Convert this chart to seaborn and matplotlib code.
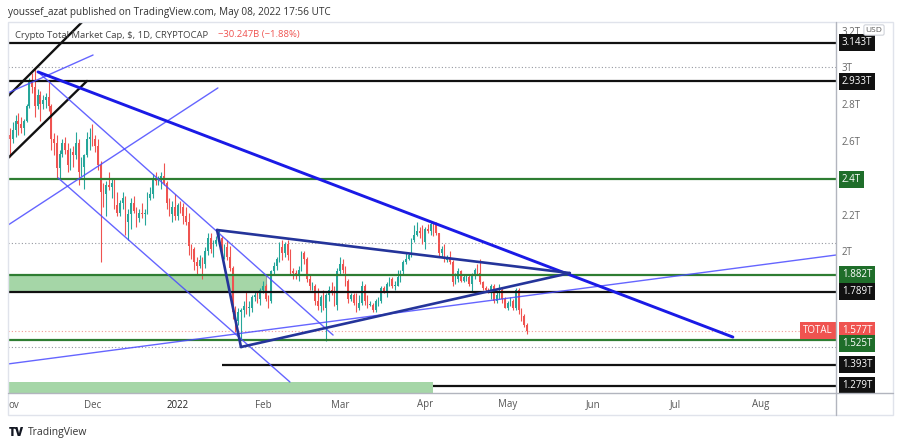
import numpy as np
import pandas as pd
import matplotlib
matplotlib.use("Agg")
import matplotlib.pyplot as plt
import matplotlib.transforms as mtransforms
from matplotlib.lines import Line2D
from matplotlib.patches import Rectangle
import seaborn as sns

# CRYPTOCAP:TOTAL daily candles, trillions USD, 2021-11-01 .. 2022-05-08
start = "2021-11-01"
first_open = 2.64
close = [
    # Nov
    2.62, 2.67, 2.72, 2.70, 2.68, 2.72, 2.80, 2.93, 2.90, 2.80, 2.86, 2.81, 2.83, 2.85, 2.80,
    2.62, 2.60, 2.46, 2.54, 2.60, 2.56, 2.48, 2.55, 2.53, 2.60, 2.44, 2.47, 2.53, 2.62, 2.63,
    # Dec
    2.62, 2.58, 2.48, 2.33, 2.32, 2.37, 2.36, 2.38, 2.26, 2.22, 2.27, 2.30, 2.17, 2.21, 2.27, 2.23,
    2.19, 2.22, 2.21, 2.22, 2.30, 2.32, 2.40, 2.39, 2.40, 2.42, 2.38, 2.27, 2.21, 2.25, 2.20,
    # Jan
    2.26, 2.25, 2.20, 2.17, 2.04, 2.02, 1.95, 1.93, 1.96, 1.94, 2.01, 2.08, 2.02, 2.05, 2.07, 2.08,
    2.02, 2.03, 1.98, 1.92, 1.68, 1.63, 1.68, 1.69, 1.71, 1.70, 1.70, 1.76, 1.77, 1.75, 1.80,
    # Feb
    1.82, 1.75, 1.74, 1.90, 1.93, 1.97, 2.03, 2.00, 2.05, 1.99, 1.90, 1.89, 1.88, 1.91,
    2.00, 1.97, 1.86, 1.82, 1.82, 1.74, 1.71, 1.76, 1.70, 1.77, 1.80, 1.79, 1.72, 1.90,
    # Mar
    1.94, 1.91, 1.85, 1.75, 1.77, 1.73, 1.70, 1.73, 1.82, 1.74, 1.72, 1.72, 1.69, 1.74, 1.74, 1.81,
    1.79, 1.83, 1.86, 1.82, 1.82, 1.87, 1.90, 1.95, 1.97, 1.99, 2.07, 2.10, 2.12, 2.11, 2.06,
    # Apr
    2.13, 2.12, 2.16, 2.15, 2.11, 2.00, 2.02, 1.96, 1.98, 1.95, 1.84, 1.86, 1.90, 1.85, 1.87,
    1.87, 1.83, 1.88, 1.91, 1.89, 1.84, 1.81, 1.80, 1.79, 1.82, 1.74, 1.77, 1.80, 1.75, 1.70,
    # May
    1.73, 1.74, 1.70, 1.80, 1.69, 1.66, 1.607, 1.577,
]
high = [
    2.68, 2.71, 2.75, 2.76, 2.74, 2.73, 2.81, 2.95, 2.98, 3.01, 2.89, 2.88, 2.86, 2.87, 2.93,
    2.81, 2.65, 2.64, 2.56, 2.62, 2.63, 2.60, 2.57, 2.58, 2.66, 2.62, 2.52, 2.54, 2.66, 2.68,
    2.70, 2.64, 2.62, 2.50, 2.38, 2.39, 2.44, 2.40, 2.41, 2.33, 2.29, 2.33, 2.31, 2.24, 2.30, 2.31,
    2.25, 2.24, 2.27, 2.24, 2.33, 2.36, 2.43, 2.44, 2.42, 2.44, 2.49, 2.39, 2.30, 2.28, 2.32,
    2.27, 2.28, 2.27, 2.25, 2.22, 2.05, 2.03, 1.98, 1.99, 1.98, 2.03, 2.11, 2.11, 2.07, 2.09, 2.13,
    2.09, 2.05, 2.07, 2.04, 1.93, 1.71, 1.70, 1.70, 1.74, 1.79, 1.74, 1.77, 1.79, 1.79, 1.81,
    1.85, 1.83, 1.77, 1.91, 1.95, 1.98, 2.06, 2.07, 2.06, 2.07, 2.02, 1.92, 1.91, 1.93,
    2.01, 2.01, 1.98, 1.88, 1.84, 1.83, 1.81, 1.77, 1.80, 1.78, 1.82, 1.84, 1.82, 1.92,
    1.98, 1.97, 1.93, 1.86, 1.78, 1.78, 1.78, 1.77, 1.85, 1.83, 1.77, 1.74, 1.73, 1.75, 1.76, 1.82,
    1.82, 1.84, 1.87, 1.87, 1.85, 1.91, 1.91, 1.96, 2.00, 2.00, 2.08, 2.15, 2.17, 2.14, 2.15,
    2.14, 2.16, 2.17, 2.17, 2.17, 2.11, 2.04, 2.05, 1.99, 2.01, 1.96, 1.89, 1.92, 1.91, 1.88,
    1.88, 1.88, 1.89, 1.92, 1.94, 1.97, 1.85, 1.82, 1.81, 1.83, 1.83, 1.79, 1.83, 1.81, 1.76,
    1.74, 1.76, 1.75, 1.81, 1.81, 1.70, 1.67, 1.62,
]
low = [
    2.52, 2.60, 2.63, 2.64, 2.65, 2.64, 2.71, 2.79, 2.87, 2.74, 2.78, 2.72, 2.78, 2.79, 2.77,
    2.56, 2.53, 2.41, 2.40, 2.52, 2.54, 2.44, 2.45, 2.47, 2.51, 2.37, 2.42, 2.35, 2.52, 2.56,
    2.58, 2.55, 2.45, 1.95, 2.25, 2.20, 2.34, 2.30, 2.24, 2.20, 2.20, 2.24, 2.10, 2.07, 2.13, 2.22,
    2.14, 2.17, 2.19, 2.15, 2.21, 2.29, 2.30, 2.37, 2.37, 2.35, 2.37, 2.24, 2.20, 2.17, 2.18,
    2.18, 2.22, 2.16, 2.15, 1.99, 1.97, 1.91, 1.88, 1.92, 1.86, 1.92, 1.99, 2.00, 1.98, 2.04, 2.05,
    1.99, 1.97, 1.96, 1.90, 1.64, 1.57, 1.61, 1.53, 1.65, 1.67, 1.66, 1.68, 1.74, 1.73, 1.72,
    1.78, 1.74, 1.70, 1.73, 1.88, 1.91, 1.95, 1.96, 1.98, 1.96, 1.88, 1.86, 1.86, 1.85,
    1.90, 1.94, 1.84, 1.80, 1.80, 1.72, 1.69, 1.68, 1.69, 1.52, 1.74, 1.77, 1.71, 1.69,
    1.88, 1.89, 1.82, 1.73, 1.74, 1.72, 1.68, 1.69, 1.72, 1.72, 1.70, 1.71, 1.68, 1.68, 1.71, 1.73,
    1.78, 1.76, 1.82, 1.81, 1.80, 1.82, 1.84, 1.88, 1.94, 1.96, 1.98, 2.06, 2.09, 2.08, 2.05,
    2.02, 2.11, 2.10, 2.09, 2.10, 1.98, 1.98, 1.95, 1.95, 1.94, 1.82, 1.83, 1.84, 1.84, 1.84,
    1.85, 1.82, 1.79, 1.86, 1.88, 1.83, 1.80, 1.79, 1.78, 1.75, 1.73, 1.73, 1.75, 1.73, 1.70,
    1.69, 1.71, 1.69, 1.69, 1.67, 1.63, 1.60, 1.56,
]

# drawings: (x0, y0, x1, y1) in days since start / trillions
black_channel = [(-0.7, 2.853, 26.2, 3.255), (-0.7, 2.516, 28.0, 2.935)]
thin_blue = [(-0.7, 2.870, 30.2, 3.076), (-0.7, 2.152, 75.6, 2.897),
             (10.2, 2.984, 117.5, 1.554), (17.5, 2.408, 101.8, 1.299),
             (-0.7, 1.397, 300.4, 1.989)]
thick_blue = [(10.2, 2.984, 262.9, 1.543)]
navy_triangle = [(75.3, 2.125, 203.6, 1.891), (75.3, 2.125, 84.0, 1.489),
                 (84.0, 1.489, 203.6, 1.891)]

# horizontal levels: value, start day, kind
levels = [(3.143, -0.7, "black"), (2.933, -0.7, "black"), (2.4, -0.7, "green"),
          (1.882, -0.7, "green"), (1.789, -0.7, "black"), (1.525, -0.7, "green"),
          (1.393, 77.1, "black"), (1.279, 153.8, "black")]
dotted_levels = [3.011, 2.054, 1.489]
green_boxes = [(-0.7, 93.1, 1.789, 1.882), (-0.7, 153.8, 1.239, 1.299)]

scale_labels = ["3.2T", "3T", "2.8T", "2.6T", "2.2T", "2T"]
scale_values = [3.2, 3.0, 2.8, 2.6, 2.2, 2.0]
tag_labels = ["3.143T", "2.933T", "2.4T", "1.882T", "1.789T", "1.577T", "1.525T", "1.393T", "1.279T"]
tag_values = [3.143, 2.933, 2.4, 1.882, 1.789, 1.577, 1.508, 1.393, 1.279]
tag_kinds = ["black", "black", "green", "green", "black", "red", "green", "black", "black"]
month_labels = ["ov", "Dec", "2022", "Feb", "Mar", "Apr", "May", "Jun", "Jul", "Aug"]
month_starts = ["2021-11-01", "2021-12-01", "2022-01-01", "2022-02-01", "2022-03-01",
                "2022-04-01", "2022-05-01", "2022-06-01", "2022-07-01", "2022-08-01"]

GREEN = "#26a69a"
RED = "#ef5350"
colmap = {"black": "#111111", "green": "#1f6e2a", "red": RED}
linemap = {"black": "#111111", "green": "#2e7d32"}

sns.set_theme(style="white")
plt.rcParams["font.family"] = ["Open Sans", "DejaVu Sans"]

W, H = 900, 445
fig = plt.figure(figsize=(W / 100, H / 100), dpi=100)


def fx(px):
    return px / W


def fy(py):
    return 1 - py / H


L, R, T, B = 8, 836, 22, 393
ax = fig.add_axes([fx(L), fy(B), (R - L) / W, (B - T) / H])
ax.set_xticks([])
ax.set_yticks([])
for s in ax.spines.values():
    s.set_visible(False)

close = np.array(close)
high = np.array(high)
low = np.array(low)
opn = np.r_[first_open, close[:-1]]
x = np.arange(len(close))
cols = np.where(close >= opn, GREEN, RED)

# boxes first, under candles
for x0, x1, y0, y1 in green_boxes:
    ax.add_patch(Rectangle((x0, y0), x1 - x0, y1 - y0, fc="#a5d6a7", ec="none", zorder=1))
ax.vlines(93.1, 1.789, 1.882, color="#999999", lw=0.8, zorder=1)

for v in dotted_levels:
    ax.hlines(v, -0.73, 300.4, color="#9598a1", lw=0.8, linestyles=(0, (1, 2)), zorder=1)
ax.hlines(close[-1], -0.73, 288.5, color=RED, lw=0.8, alpha=0.6, linestyles=(0, (1, 2)), zorder=1)

ax.vlines(x, low, high, colors=cols, lw=0.8, zorder=2)
body = np.maximum(np.abs(close - opn), 0.004)
ax.bar(x, body, bottom=np.minimum(close, opn), width=0.65, color=cols, lw=0, zorder=2.5)

for v, xs, kind in levels:
    ax.hlines(v, xs, 300.4, color=linemap[kind], lw=1.6, zorder=3)

for x0, y0, x1, y1 in black_channel:
    sns.lineplot(x=[x0, x1], y=[y0, y1], ax=ax, color="#111111", lw=1.7, zorder=4)
for x0, y0, x1, y1 in thin_blue:
    sns.lineplot(x=[x0, x1], y=[y0, y1], ax=ax, color="#4a4aff", lw=1.0, alpha=0.85, zorder=4)
for x0, y0, x1, y1 in thick_blue:
    sns.lineplot(x=[x0, x1], y=[y0, y1], ax=ax, color="#1a1ae6", lw=2.1, zorder=4)
for x0, y0, x1, y1 in navy_triangle:
    sns.lineplot(x=[x0, x1], y=[y0, y1], ax=ax, color="#24349a", lw=1.9, zorder=4)
ax.set_xlim(-0.73, 300.4)
ax.set_ylim(1.2391, 3.2554)
ax.set_xlabel("")
ax.set_ylabel("")

# price scale
yt = mtransforms.blended_transform_factory(ax.transAxes, ax.transData)
lab_x = 1 + 6 / (R - L)
for lab, v in zip(scale_labels, scale_values):
    ax.text(lab_x, v, lab, transform=yt, fontsize=7, color="#666666", va="center",
            ha="left", clip_on=False)
for lab, v, kind in zip(tag_labels, tag_values, tag_kinds):
    ax.text(lab_x, v, lab, transform=yt, fontsize=7, color="white", va="center", ha="left",
            clip_on=False, zorder=6,
            bbox=dict(boxstyle="square,pad=0.3", fc=colmap[kind], ec="none"))
ax.text(1 - 3 / (R - L), close[-1], "TOTAL", transform=yt, fontsize=7, color="white",
        va="center", ha="right", zorder=6,
        bbox=dict(boxstyle="square,pad=0.3", fc=RED, ec="none"))

# time scale
xt = mtransforms.blended_transform_factory(ax.transData, ax.transAxes)
t0 = pd.Timestamp(start)
for lab, m in zip(month_labels, month_starts):
    d = (pd.Timestamp(m) - t0).days
    if lab == "ov":
        d = 1.5
    ax.text(d, -12 / (B - T), lab, transform=xt, fontsize=7,
            color="#222222" if lab == "2022" else "#555555", ha="center", va="center",
            clip_on=False)

# frame
frame = "#e0e3eb"
sep = "#b2b5be"
fig.add_artist(Rectangle((fx(8), fy(415)), fx(893) - fx(8), fy(22) - fy(415),
                         transform=fig.transFigure, fill=False, ec=frame, lw=1))
fig.add_artist(Line2D([fx(836), fx(836)], [fy(22), fy(415)], color=sep, lw=1))
fig.add_artist(Line2D([fx(8), fx(893)], [fy(393), fy(393)], color=sep, lw=1))

# titles
fig.text(fx(8), fy(12), "youssef_azat published on TradingView.com, May 08, 2022 17:56 UTC",
         fontsize=7.2, color="#333333", va="center", ha="left")
fig.text(fx(15), fy(35), "Crypto Total Market Cap, $, 1D, CRYPTOCAP",
         fontsize=6.8, color="#444444", va="center", ha="left", zorder=5)
fig.text(fx(218), fy(35), "\u221230.247B (\u22121.88%)", fontsize=6.8, color=RED,
         va="center", ha="left", zorder=5)
fig.text(fx(874), fy(30), "USD", fontsize=6, color="#555555", va="center", ha="center",
         zorder=7, bbox=dict(boxstyle="round,pad=0.2", fc="white", ec="#d0d3da", lw=0.8))
fig.text(fx(9), fy(433), "TV", fontsize=8.5, fontweight="heavy", color="#131722",
         va="center", ha="left")
fig.text(fx(28), fy(433), "TradingView", fontsize=7.5, color="#333333", va="center", ha="left")

fig.savefig("out.png", dpi=100, facecolor="white")
